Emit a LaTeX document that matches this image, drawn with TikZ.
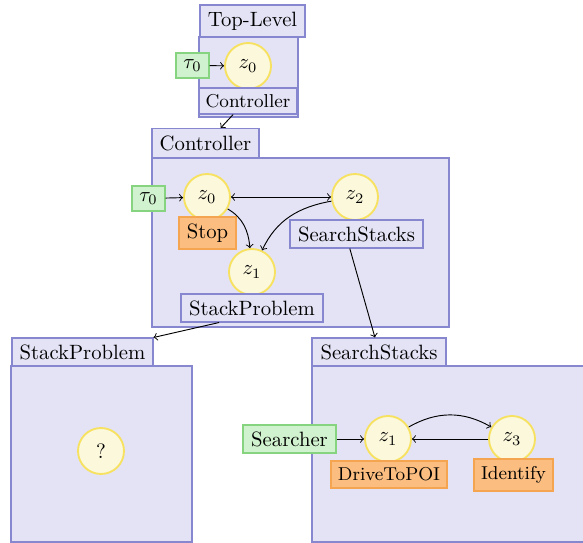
\documentclass[tikz,border=0pt]{standalone}
\usetikzlibrary{calc}
\definecolor{bfill}{RGB}{228,227,246}
\definecolor{bdraw}{RGB}{135,135,208}
\definecolor{cfill}{RGB}{252,248,220}
\definecolor{cdraw}{RGB}{247,225,96}
\definecolor{gfill}{RGB}{209,242,206}
\definecolor{gdraw}{RGB}{135,212,128}
\definecolor{ofill}{RGB}{251,190,128}
\definecolor{odraw}{RGB}{245,165,80}
\begin{document}
\begin{tikzpicture}[x=0.483pt,y=0.483pt,
 sz/.style 2 args={minimum width=#1*0.483pt, minimum height=#2*0.483pt},
 bbox/.style={draw=bdraw, fill=bfill, line width=0.5pt, inner sep=0pt},
 zstate/.style={circle, draw=cdraw, fill=cfill, line width=0.9pt, minimum size=46*0.483pt, inner sep=0pt},
 initbox/.style={draw=gdraw, fill=gfill, line width=0.5pt, inner sep=0pt},
 actbox/.style={draw=odraw, fill=ofill, line width=0.5pt, inner sep=0pt},
 conn/.style={->, line width=0.45pt}]
\useasboundingbox (0,0) rectangle (583,-543);

% Top-Level
\node[bbox, sz={105}{32}] (tlTitle) at (252.5,-21) {Top-Level};
\node[bbox, sz={99}{80}] (tlBody) at (248.5,-77) {};
\node[initbox, sz={33}{25}] (tlTau) at (192.5,-65.5) {$\tau_0$};
\node[zstate] (tlZ0) at (248,-66) {$z_0$};
\node[bbox, sz={98}{26}, font=\small] (tlCtrl) at (248,-101) {Controller};
\draw[conn] (tlTau) -- (tlZ0);

% Controller
\node[bbox, sz={107}{29}] (cTitle) at (205.5,-143) {Controller};
\node[bbox, sz={297}{169}] (cBody) at (300.5,-242.5) {};
\node[initbox, sz={33}{25}] (cTau) at (148.5,-198.5) {$\tau_0$};
\node[zstate] (cZ0) at (207,-197) {$z_0$};
\node[zstate] (cZ2) at (355,-197) {$z_2$};
\node[zstate] (cZ1) at (252,-272) {$z_1$};
\node[actbox, sz={57}{32}] (cStop) at (207.5,-233) {Stop};
\node[bbox, sz={133}{28}] (cSS) at (356.5,-234) {SearchStacks};
\node[bbox, sz={142}{28}] (cSP) at (252,-308) {StackProblem};
\draw[conn] (cTau) -- (cZ0);
\draw[conn,<->] (cZ0) -- (cZ2);
\draw[conn] (cZ0.-30) to[out=-30,in=95] (cZ1.95);
\draw[conn] (cZ2.190) to[out=190,in=65] (cZ1.65);

% StackProblem
\node[bbox, sz={141}{28}] (spTitle) at (82.5,-352) {StackProblem};
\node[bbox, sz={181}{176}] (spBody) at (101.5,-454) {};
\node[zstate] (spQ) at (101,-451) {?};

% SearchStacks
\node[bbox, sz={134}{28}] (ssTitle) at (379,-352) {SearchStacks};
\node[bbox, sz={288}{176}] (ssBody) at (456,-454) {};
\node[initbox, sz={93}{28}] (ssSearcher) at (289.5,-439) {Searcher};
\node[zstate] (ssZ1) at (388,-439) {$z_1$};
\node[zstate] (ssZ3) at (512,-439) {$z_3$};
\node[actbox, sz={116}{27}, font=\small] (ssDrive) at (389,-474.5) {DriveToPOI};
\node[actbox, sz={79}{32}, font=\small] (ssId) at (513.5,-475) {Identify};
\draw[conn] (ssSearcher) -- (ssZ1);
\draw[conn] (ssZ3) -- (ssZ1);
\draw[conn] (ssZ1.30) to[bend left=30] (ssZ3.150);

% links between levels
\draw[conn] ($(tlCtrl.south west)!0.35!(tlCtrl.south east)$) -- ($(cTitle.north west)!0.64!(cTitle.north east)$);
\draw[conn] ($(cSP.south west)!0.27!(cSP.south east)$) -- (spTitle.north east);
\draw[conn] ($(cSS.south west)!0.45!(cSS.south east)$) -- ($(ssTitle.north west)!0.47!(ssTitle.north east)$);
\end{tikzpicture}
\end{document}
